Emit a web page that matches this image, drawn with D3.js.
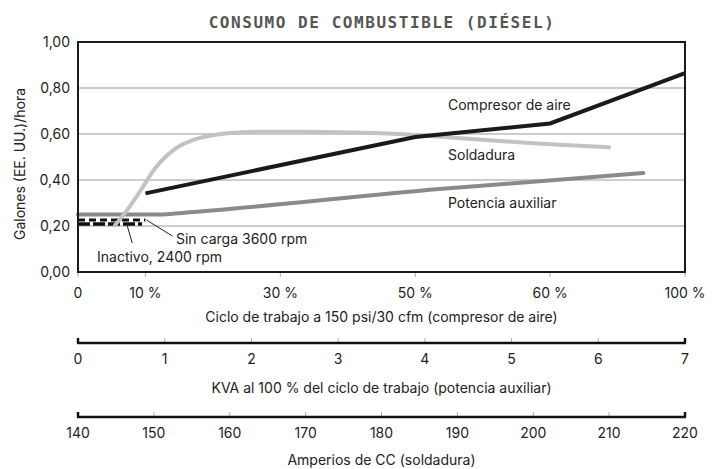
<!DOCTYPE html>
<html>
<head>
<meta charset="utf-8">
<script src="https://cdn.jsdelivr.net/npm/d3@7"></script>
<style>
  body { margin: 0; background: #fff; }
  text { font-family: Inter, "Noto Sans", sans-serif; fill: #222; }
  .title { font-family: "DejaVu Sans Mono", monospace; font-weight: bold; fill: #555; }
</style>
</head>
<body>
<div id="chart"></div>
<script>
"use strict";

// duty cycle ticks (top axis), KVA ticks, amps ticks
var dutyTicks = [0, 10, 30, 50, 60, 100];
var kvaTicks = [0, 1, 2, 3, 4, 5, 6, 7];
var ampTicks = [140, 150, 160, 170, 180, 190, 200, 210, 220];
var yTicks = [0, 0.2, 0.4, 0.6, 0.8, 1.0];

// Compresor de aire: [% ciclo, gal/h]
var compresor = [[10, 0.342], [50, 0.587], [60, 0.646], [100, 0.865]];
// Soldadura: [amperios CC, gal/h]
var soldadura = [[144.9, 0.204], [146.2, 0.257], [147.5, 0.317], [148.8, 0.383], [150.1, 0.448],
  [151.5, 0.50], [153.4, 0.548], [156.1, 0.583], [159.4, 0.602], [162.7, 0.609], [169.3, 0.61],
  [174.5, 0.608], [180, 0.603], [184.4, 0.596], [190, 0.583], [200, 0.56], [210, 0.542]];
// Potencia auxiliar: [KVA, gal/h]
var potencia = [[0, 0.25], [0.95, 0.25], [1.2, 0.257], [4.17, 0.361], [6.52, 0.43]];
// Sin carga 3600 rpm / Inactivo 2400 rpm: [% ciclo, gal/h]
var sinCarga = [[0, 0.226], [10, 0.226]];
var inactivo = [[0, 0.209], [9.5, 0.209]];

var svg = d3.select("#chart").append("svg")
    .attr("width", 717)
    .attr("height", 469),
    margin = { top: 42, right: 32, left: 78 },
    width = 717 - margin.left - margin.right,
    height = 230;

var x = d3.scaleLinear().domain(dutyTicks)
    .range([0, 0.5, 1.5, 2.5, 3.5, 4.5].map(function (u) { return u * width / 4.5; }));
var xKva = d3.scaleLinear().domain([0, 7]).range([0, width]);
var xAmp = d3.scaleLinear().domain([140, 220]).range([0, width]);
var y = d3.scaleLinear().domain([0, 1]).range([height, 0]);

svg.append("text")
    .attr("class", "title")
    .attr("x", 382)
    .attr("y", 28)
    .attr("text-anchor", "middle")
    .attr("font-size", "16px")
    .attr("letter-spacing", "1.55px")
    .text("CONSUMO DE COMBUSTIBLE (DIÉSEL)");

var g = svg.append("g")
    .attr("transform", "translate(" + margin.left + "," + margin.top + ")");

// grid
g.selectAll(".grid")
    .data([0.2, 0.4, 0.6, 0.8])
    .enter().append("line")
    .attr("x1", 0).attr("x2", width)
    .attr("y1", function (d) { return y(d); })
    .attr("y2", function (d) { return y(d); })
    .attr("stroke", "#999")
    .attr("stroke-width", 1.2);

// y tick labels
g.selectAll(".ylab")
    .data(yTicks)
    .enter().append("text")
    .attr("x", -8)
    .attr("y", function (d) { return y(d); })
    .attr("dy", "0.35em")
    .attr("text-anchor", "end")
    .attr("font-size", "14px")
    .text(function (d) { return d.toFixed(2).replace(".", ","); });

svg.append("text")
    .attr("transform", "translate(25,164) rotate(-90)")
    .attr("text-anchor", "middle")
    .attr("font-size", "14px")
    .text("Galones (EE. UU.)/hora");

// top x axis ticks + labels
g.selectAll(".xtick")
    .data(dutyTicks)
    .enter().append("line")
    .attr("x1", function (d) { return x(d); })
    .attr("x2", function (d) { return x(d); })
    .attr("y1", height).attr("y2", height + 5)
    .attr("stroke", "#aaa");

g.selectAll(".xlab")
    .data(dutyTicks)
    .enter().append("text")
    .attr("x", function (d) { return x(d); })
    .attr("y", height + 26)
    .attr("text-anchor", "middle")
    .attr("font-size", "14px")
    .text(function (d) { return d === 0 ? "0" : d + " %"; });

g.append("text")
    .attr("x", width / 2)
    .attr("y", height + 50)
    .attr("text-anchor", "middle")
    .attr("font-size", "14px")
    .text("Ciclo de trabajo a 150 psi/30 cfm (compresor de aire)");

// dashed idle lines
var lineDuty = d3.line()
    .x(function (d) { return x(d[0]); })
    .y(function (d) { return y(d[1]); });

g.append("path")
    .datum(inactivo)
    .attr("d", lineDuty)
    .attr("fill", "none")
    .attr("stroke", "#111")
    .attr("stroke-width", 3.5)
    .attr("stroke-dasharray", "12,3");

g.append("path")
    .datum(sinCarga)
    .attr("d", lineDuty)
    .attr("fill", "none")
    .attr("stroke", "#111")
    .attr("stroke-width", 3)
    .attr("stroke-dasharray", "7,4");

// series
g.append("path")
    .datum(potencia)
    .attr("d", d3.line()
        .x(function (d) { return xKva(d[0]); })
        .y(function (d) { return y(d[1]); })
        .curve(d3.curveMonotoneX))
    .attr("fill", "none")
    .attr("stroke", "#8a8a8a")
    .attr("stroke-width", 4)
    .attr("stroke-linecap", "round");

g.append("path")
    .datum(soldadura)
    .attr("d", d3.line()
        .x(function (d) { return xAmp(d[0]); })
        .y(function (d) { return y(d[1]); })
        .curve(d3.curveCatmullRom.alpha(0.5)))
    .attr("fill", "none")
    .attr("stroke", "#c2c2c2")
    .attr("stroke-width", 4)
    .attr("stroke-linecap", "round");

g.append("path")
    .datum(compresor)
    .attr("d", lineDuty)
    .attr("fill", "none")
    .attr("stroke", "#1a1a1a")
    .attr("stroke-width", 4);

// frame
g.append("rect")
    .attr("width", width)
    .attr("height", height)
    .attr("fill", "none")
    .attr("stroke", "#1a1a1a")
    .attr("stroke-width", 2);

// series labels
[["Compresor de aire", 110], ["Soldadura", 160], ["Potencia auxiliar", 208]].forEach(function (l) {
    svg.append("text")
        .attr("x", 448)
        .attr("y", l[1])
        .attr("font-size", "14px")
        .text(l[0]);
});

// idle annotations
var sx = x(sinCarga[1][0]), sy = y(sinCarga[1][1]);
g.append("line")
    .attr("x1", sx + 1).attr("y1", sy)
    .attr("x2", sx + 27).attr("y2", sy + 16)
    .attr("stroke", "#222");
svg.append("text")
    .attr("x", 176).attr("y", 244)
    .attr("font-size", "14px")
    .text("Sin carga 3600 rpm");

var ix = x(7.3), iy = y(inactivo[0][1]);
g.append("line")
    .attr("x1", ix).attr("y1", iy + 2)
    .attr("x2", ix + 5).attr("y2", iy + 19)
    .attr("stroke", "#222");
svg.append("text")
    .attr("x", 97).attr("y", 262)
    .attr("font-size", "14px")
    .text("Inactivo, 2400 rpm");

// secondary axes
function secondaryAxis(scale, ticks, lineY, title, titleY) {
    var a = svg.append("g").attr("transform", "translate(" + margin.left + "," + lineY + ")");
    a.selectAll("line.t")
        .data(ticks)
        .enter().append("line")
        .attr("x1", function (d) { return scale(d); })
        .attr("x2", function (d) { return scale(d); })
        .attr("y1", 0).attr("y2", -5)
        .attr("stroke", function (d, i) { return i === 0 || i === ticks.length - 1 ? "#111" : "#aaa"; })
        .attr("stroke-width", function (d, i) { return i === 0 || i === ticks.length - 1 ? 2.5 : 1; });
    a.append("line")
        .attr("x1", scale.range()[0] - 1).attr("x2", scale.range()[1] + 1)
        .attr("stroke", "#111")
        .attr("stroke-width", 2.5);
    a.selectAll("text")
        .data(ticks)
        .enter().append("text")
        .attr("x", function (d) { return scale(d); })
        .attr("y", 21)
        .attr("text-anchor", "middle")
        .attr("font-size", "14px")
        .text(function (d) { return d; });
    svg.append("text")
        .attr("x", margin.left + width / 2)
        .attr("y", titleY)
        .attr("text-anchor", "middle")
        .attr("font-size", "14px")
        .text(title);
}

secondaryAxis(xKva, kvaTicks, 343, "KVA al 100 % del ciclo de trabajo (potencia auxiliar)", 393);
secondaryAxis(xAmp, ampTicks, 417, "Amperios de CC (soldadura)", 465);
</script>
</body>
</html>
